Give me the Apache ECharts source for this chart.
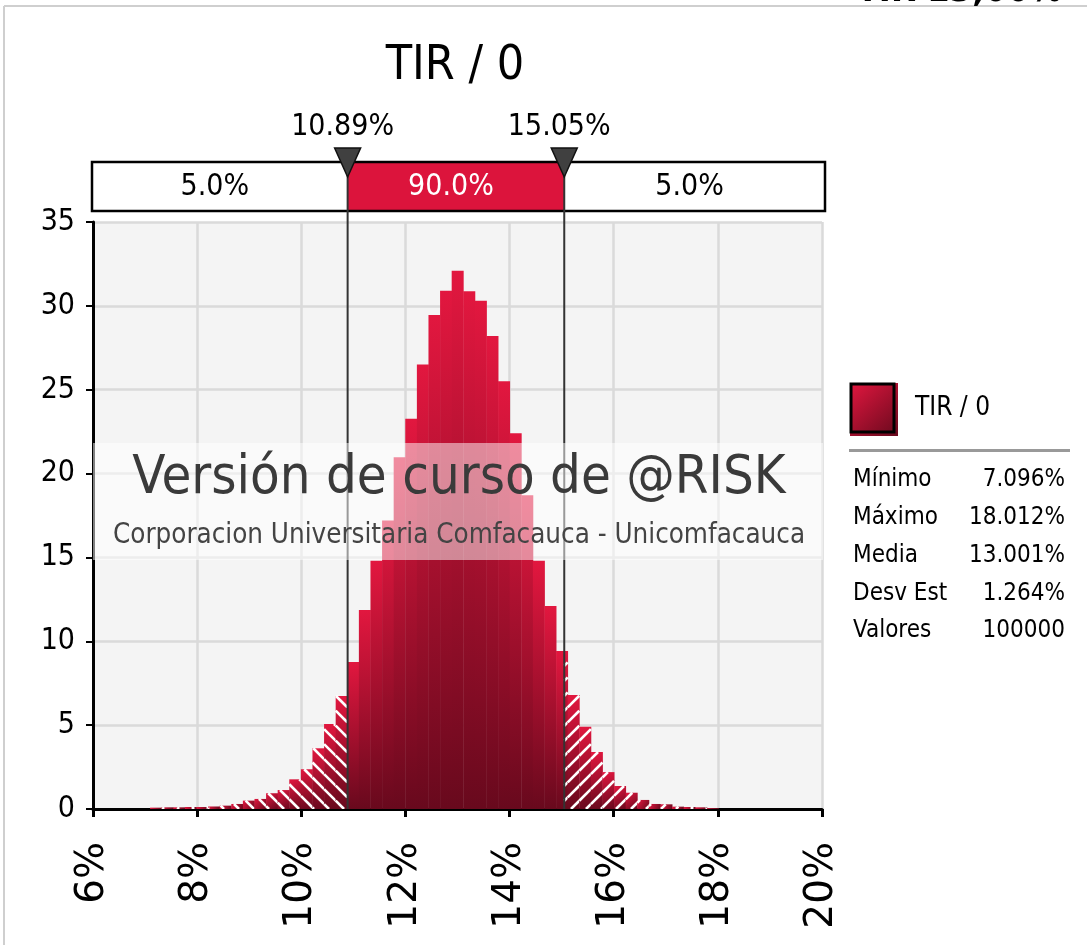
<!DOCTYPE html>
<html><head><meta charset="utf-8">
<script src="https://cdn.jsdelivr.net/npm/echarts@6/dist/echarts.min.js"></script>
<style>html,body{margin:0;padding:0;background:#fff}#c{width:1087px;height:945px}</style>
</head><body><div id="c"></div>
<script>
const FONT = '"DejaVu Sans Condensed","DejaVu Sans",sans-serif';
const FONT_WIDE = '"DejaVu Sans",sans-serif';
const chartTitle = 'TIR / 0';
const cornerText = 'TIR 13,00%';
const binLow = 7.096;
const binHigh = 18.012;
const density = [0.08,0.10,0.10,0.12,0.12,0.15,0.20,0.30,0.50,0.60,
  0.94,1.13,1.77,2.37,3.62,5.07,6.74,8.77,11.87,14.8,17.2,20.97,23.27,26.5,29.46,30.9,32.1,
  30.87,30.3,28.2,25.5,22.4,18.7,14.8,12.1,9.42,6.8,4.9,3.4,2.2,1.37,0.97,0.54,0.3,0.28,0.14,0.12,0.1,0.05];
const xMin = 6, xMax = 20, xStep = 2;
const yMin = 0, yMax = 35, yStep = 5;
const delimiters = [10.89, 15.05];
const delimiterLabels = ['10.89%', '15.05%'];
const bandPct = ['5.0%', '90.0%', '5.0%'];
const legendName = 'TIR / 0';
const statLabels = ['Mínimo', 'Máximo', 'Media', 'Desv Est', 'Valores'];
const statValues = ['7.096%', '18.012%', '13.001%', '1.264%', '100000'];
const watermark1 = 'Versión de curso de @RISK';
const watermark2 = 'Corporacion Universitaria Comfacauca - Unicomfacauca';

const binW = (binHigh - binLow) / density.length;
const histData = density.map((v, i) => [binLow + i * binW, binLow + (i + 1) * binW, v]);

function barGrad() {
  return new echarts.graphic.LinearGradient(0, 0, 1, 1, [
    {offset: 0, color: '#E2173F'}, {offset: 1, color: '#68091D'}]);
}

function hatchLines(xa, xb, ya, yb, dir, S, out) {
  if (xb - xa <= 0.5 || yb - ya <= 0.5) return;
  if (dir < 0) { // "\" : y = x + c
    const cLo = ya - xb, cHi = yb - xa;
    for (let c = Math.ceil(cLo / S) * S; c <= cHi; c += S) {
      const s = Math.max(xa, ya - c), e = Math.min(xb, yb - c);
      if (e > s) out.push({type: 'line', shape: {x1: s, y1: s + c, x2: e, y2: e + c},
        style: {stroke: '#ffffff', lineWidth: 2.6}});
    }
  } else { // "/" : y = c - x
    const cLo = xa + ya, cHi = xb + yb;
    for (let c = Math.ceil(cLo / S) * S; c <= cHi; c += S) {
      const s = Math.max(xa, c - yb), e = Math.min(xb, c - ya);
      if (e > s) out.push({type: 'line', shape: {x1: s, y1: c - s, x2: e, y2: c - e},
        style: {stroke: '#ffffff', lineWidth: 2.6}});
    }
  }
}

function renderBar(params, api) {
  const x0 = api.value(0), x1 = api.value(1), h = api.value(2);
  const tl = api.coord([x0, h]), br = api.coord([x1, 0]);
  const rx = tl[0], ry = tl[1], rw = br[0] - tl[0], rh = br[1] - tl[1];
  const children = [{type: 'rect', shape: {x: rx, y: ry, width: rw + 0.4, height: rh},
    style: {fill: barGrad()}}];
  const L = api.coord([delimiters[0], 0])[0], R = api.coord([delimiters[1], 0])[0];
  if (rx < L) hatchLines(rx, Math.min(rx + rw, L), ry, ry + rh, -1, 15, children);
  if (rx + rw > R) hatchLines(Math.max(rx, R), rx + rw, ry, ry + rh, 1, 15, children);
  return {type: 'group', children};
}

function renderOverlay(params, api) {
  const cs = params.coordSys;
  const top = cs.y, bottom = cs.y + cs.height;
  const L = api.coord([api.value(0), 0])[0], R = api.coord([api.value(1), 0])[0];
  const bx0 = api.coord([xMin, 0])[0] - 1, bx1 = api.coord([xMax, 0])[0] + 3;
  const by0 = top - 60, by1 = top - 11;
  const ch = [];
  ch.push({type: 'rect', shape: {x: bx0, y: by0, width: bx1 - bx0, height: by1 - by0}, style: {fill: '#fff'}});
  ch.push({type: 'rect', shape: {x: L, y: by0, width: R - L, height: by1 - by0}, style: {fill: '#DC143C'}});
  ch.push({type: 'rect', shape: {x: bx0, y: by0, width: bx1 - bx0, height: by1 - by0},
    style: {fill: 'none', stroke: '#000', lineWidth: 2.5}});
  const mids = [(bx0 + L) / 2, (L + R) / 2, (R + bx1) / 2];
  mids.forEach((m, i) => ch.push({type: 'text', style: {text: bandPct[i], x: m - 5, y: (by0 + by1) / 2 + 1,
    fill: i === 1 ? '#fff' : '#000', font: '30px ' + FONT, align: 'center', verticalAlign: 'middle'}}));
  [L, R].forEach((x, i) => {
    ch.push({type: 'line', shape: {x1: x, y1: by0, x2: x, y2: bottom}, style: {stroke: '#333', lineWidth: 2}});
    ch.push({type: 'polygon', shape: {points: [[x - 13, top - 74], [x + 13, top - 74], [x, top - 45]]},
      style: {fill: '#404040', stroke: '#111', lineWidth: 1.5}});
    ch.push({type: 'text', style: {text: delimiterLabels[i], x: x - 5, y: top - 95,
      fill: '#000', font: '30px ' + FONT, align: 'center', verticalAlign: 'middle'}});
  });
  return {type: 'group', children: ch};
}

const chart = echarts.init(document.getElementById('c'), null, {renderer: 'canvas'});

const graphics = [
  {type: 'line', shape: {x1: 4, y1: 6, x2: 1087, y2: 6}, style: {stroke: '#CFCFCF', lineWidth: 2}, z: 1},
  {type: 'line', shape: {x1: 4, y1: 6, x2: 4, y2: 945}, style: {stroke: '#CFCFCF', lineWidth: 2}, z: 1},
  {type: 'text', x: 1062, y: 10, style: {text: cornerText, font: 'bold 36px ' + FONT, fill: '#000',
    align: 'right', verticalAlign: 'bottom'}, z: 2},
  {type: 'text', x: 455, y: 67, style: {text: chartTitle, font: '48px ' + FONT, fill: '#000',
    align: 'center', verticalAlign: 'middle'}, z: 10},
  // watermark band
  {type: 'rect', shape: {x: 93, y: 443, width: 730, height: 117}, style: {fill: 'rgba(255,255,255,0.5)'}, z: 50},
  {type: 'text', x: 459, y: 479, style: {text: watermark1, font: '54px ' + FONT, fill: '#3a3a3a',
    align: 'center', verticalAlign: 'middle'}, z: 51},
  {type: 'text', x: 459, y: 536, style: {text: watermark2, font: '27.5px ' + FONT, fill: '#444',
    align: 'center', verticalAlign: 'middle'}, z: 51},
  // legend
  {type: 'rect', shape: {x: 850, y: 383, width: 48, height: 53}, style: {fill: barGrad()}, z: 10},
  {type: 'rect', shape: {x: 851, y: 384, width: 43, height: 48}, style: {fill: 'none', stroke: '#000', lineWidth: 3}, z: 11},
  {type: 'text', x: 915, y: 408, style: {text: legendName, font: '26px ' + FONT, fill: '#000',
    align: 'left', verticalAlign: 'middle'}, z: 10},
  {type: 'line', shape: {x1: 849, y1: 450.5, x2: 1070, y2: 450.5}, style: {stroke: '#999', lineWidth: 3}, z: 10}
];
statLabels.forEach((s, i) => {
  const y = 480 + i * 37.8;
  graphics.push({type: 'text', x: 853, y, style: {text: s, font: '24px ' + FONT, fill: '#000',
    align: 'left', verticalAlign: 'middle'}, z: 10});
  graphics.push({type: 'text', x: 1065, y, style: {text: statValues[i], font: '24px ' + FONT, fill: '#000',
    align: 'right', verticalAlign: 'middle'}, z: 10});
});

chart.setOption({
  animation: false,
  backgroundColor: '#fff',
  grid: {left: 93, top: 222, width: 729, height: 587, show: true, backgroundColor: '#F4F4F4', borderWidth: 0},
  xAxis: {
    type: 'value', min: xMin, max: xMax, interval: xStep,
    axisLine: {lineStyle: {color: '#000', width: 3}},
    axisTick: {show: true, length: 8, lineStyle: {color: '#000', width: 3}},
    axisLabel: {rotate: 90, margin: 33, fontSize: 39, color: '#000', fontFamily: FONT_WIDE, formatter: '{value}%'},
    splitLine: {show: true, lineStyle: {color: '#DADADA', width: 2.5}}
  },
  yAxis: {
    type: 'value', min: yMin, max: yMax, interval: yStep,
    axisLine: {show: true, lineStyle: {color: '#000', width: 3}},
    axisTick: {show: true, length: 7, lineStyle: {color: '#000', width: 2}},
    axisLabel: {fontSize: 30, color: '#000', margin: 18, fontFamily: FONT},
    splitLine: {show: true, lineStyle: {color: '#DADADA', width: 2.5}}
  },
  series: [
    {type: 'custom', name: legendName, renderItem: renderBar, data: histData, clip: true, z: 2,
      encode: {x: [0, 1], y: 2}},
    {type: 'custom', name: 'delim', renderItem: renderOverlay, data: [delimiters], z: 5, silent: true,
      encode: {x: [0, 1]}}
  ],
  graphic: graphics
});
</script></body></html>
